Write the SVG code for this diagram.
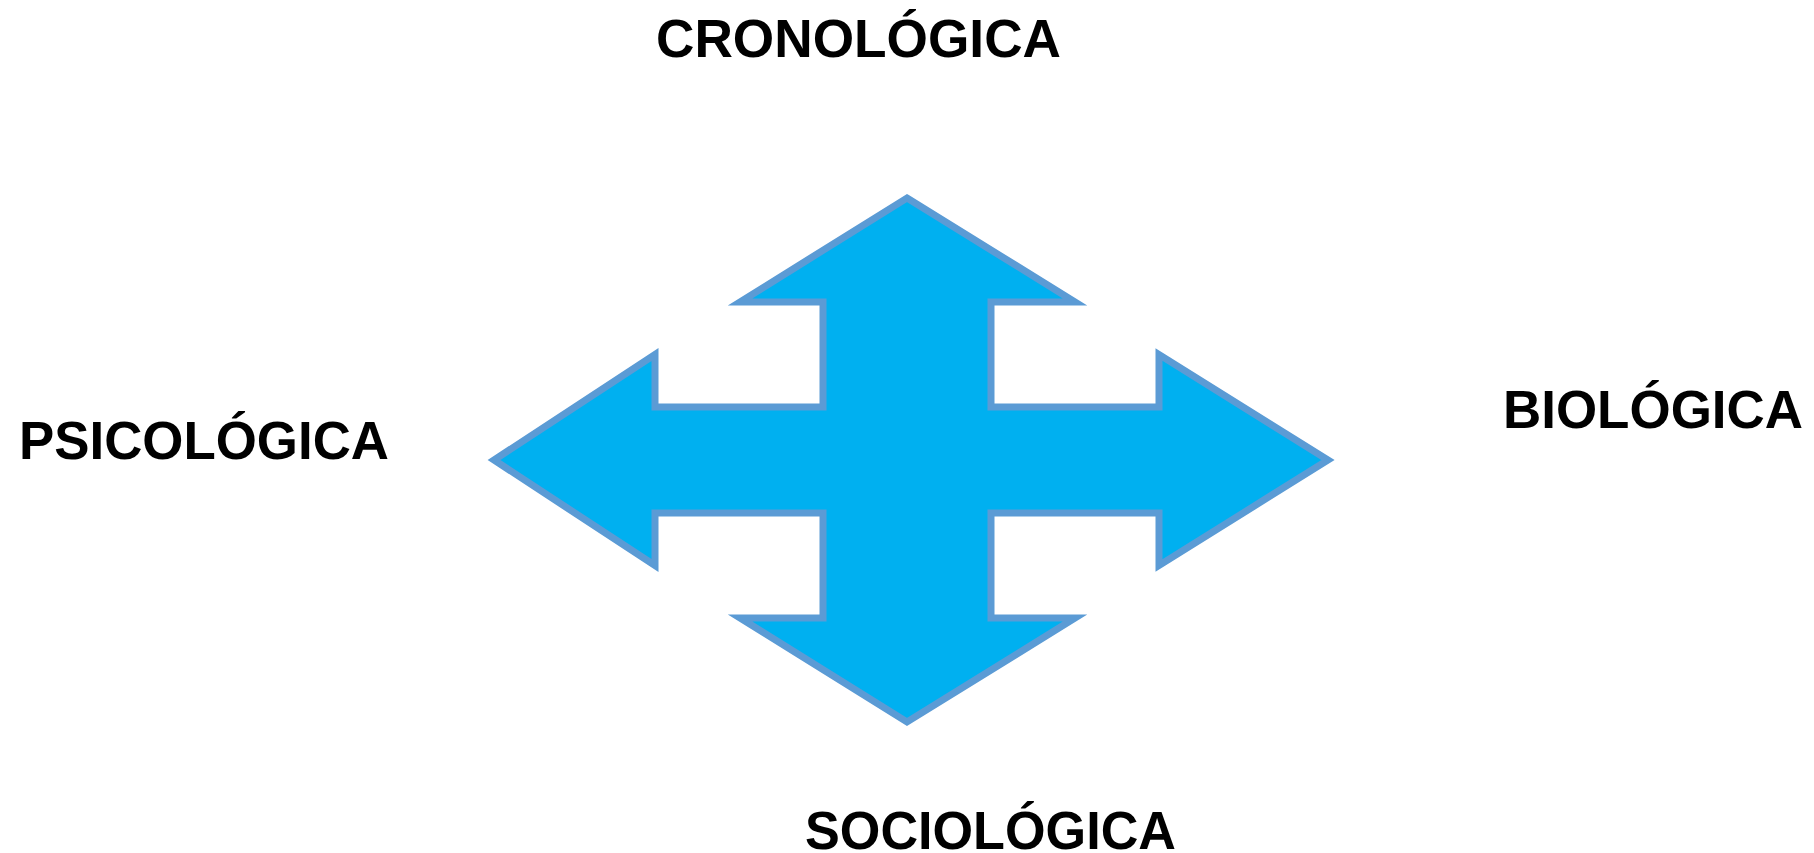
<svg xmlns="http://www.w3.org/2000/svg" width="1814" height="853" viewBox="0 0 1814 853">
<style>
.lbl{font-family:"Liberation Sans",Arial,sans-serif;font-weight:bold;font-size:53px;fill:#000}
.arrow{fill:#00B0F0;stroke:#5B9BD5;stroke-width:7;stroke-linejoin:miter}
</style>
<rect width="1814" height="853" fill="#fff"/>
<g id="cross-arrow">
<path class="arrow" d="M907,198 L1075,302 L991,302 L991,407 L1159,407 L1159,354.5 L1328,460 L1159,565.5 L1159,513 L991,513 L991,618 L1075,618 L907,722 L740,618 L823,618 L823,513 L655,513 L655,565.5 L494,460 L655,354.5 L655,407 L823,407 L823,302 L740,302 Z"/>
</g>
<g id="cronologica"><text class="lbl" x="656" y="57" textLength="405" lengthAdjust="spacingAndGlyphs">CRONOLÓGICA</text></g>
<g id="psicologica"><text class="lbl" x="19" y="458.5" textLength="370" lengthAdjust="spacingAndGlyphs">PSICOLÓGICA</text></g>
<g id="biologica"><text class="lbl" x="1503" y="428" textLength="300" lengthAdjust="spacingAndGlyphs">BIOLÓGICA</text></g>
<g id="sociologica"><text class="lbl" x="805" y="849" textLength="371" lengthAdjust="spacingAndGlyphs">SOCIOLÓGICA</text></g>
</svg>
